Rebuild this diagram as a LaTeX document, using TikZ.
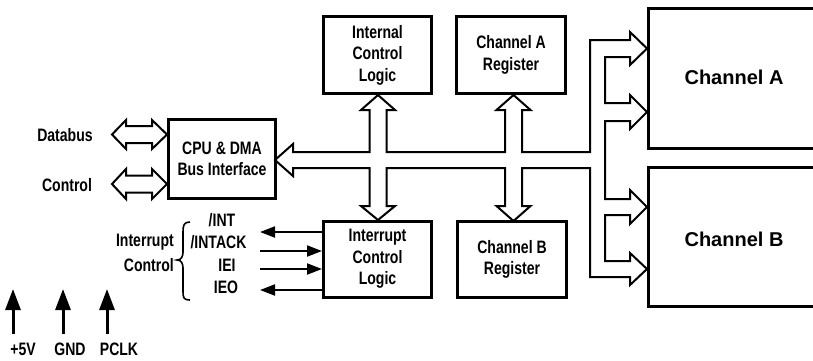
\documentclass[tikz,border=0pt]{standalone}
\usepackage{fontspec}
\setmainfont{Liberation Sans}
\newfontfamily\cond{Liberation Sans}[FakeStretch=0.78]
\usetikzlibrary{arrows.meta}
\tikzset{
  box/.style={draw, line width=3pt, inner sep=0pt, align=center,
    font=\cond\bfseries\fontsize{18}{21.5}\selectfont},
  bigbox/.style={draw, line width=3pt, inner sep=0pt},
  bigtext/.style={font=\bfseries\fontsize{20}{24}\selectfont, inner sep=0pt},
  lab/.style={font=\cond\bfseries\fontsize{18}{20}\selectfont, inner sep=0pt},
  bus/.style={draw, line width=2pt, line join=miter, fill=white},
  sig/.style={line width=2pt, -{Triangle[length=15pt,width=11pt]}},
  pwr/.style={line width=3pt, -{Triangle[length=21pt,width=15pt]}},
  bracestyle/.style={line width=1.6pt}
}
\begin{document}
\begin{tikzpicture}[x=1pt,y=-1pt]
\useasboundingbox (0,0) rectangle (813,360);
% buses
\path[bus] (275,160) -- (293,144) -- (293,152) -- (369.5,152) -- (369.5,110) -- (361,110) -- (378,95) -- (395,110) -- (386.5,110) -- (386.5,152) -- (505,152) -- (505,110) -- (496.5,110) -- (513.5,95) -- (530.5,110) -- (522,110) -- (522,152) -- (590,152) -- (590,40) -- (630,40) -- (630,32) -- (647,48.5) -- (630,65) -- (630,57) -- (605,57) -- (605,103) -- (630,103) -- (630,95) -- (647,112) -- (630,129) -- (630,121) -- (605,121) -- (605,199) -- (630,199) -- (630,190) -- (647,207) -- (630,224) -- (630,215) -- (605,215) -- (605,261) -- (630,261) -- (630,253) -- (647,269) -- (630,285) -- (630,277) -- (590,277) -- (590,168) -- (522,168) -- (522,206) -- (530.5,206) -- (513.5,221) -- (496.5,206) -- (505,206) -- (505,168) -- (386.5,168) -- (386.5,206) -- (395,206) -- (378,220) -- (361,206) -- (369.5,206) -- (369.5,168) -- (293,168) -- (293,176) -- cycle;
\path[bus] (112,134.5) -- (126,120) -- (126,126) -- (152,126) -- (152,120) -- (167,134.5) -- (152,149) -- (152,143) -- (126,143) -- (126,149) -- cycle;
\path[bus] (112,184) -- (126,169) -- (126,175.5) -- (152,175.5) -- (152,169) -- (167,184) -- (152,199) -- (152,192.5) -- (126,192.5) -- (126,199) -- cycle;
% boxes
\node[box, minimum width=107pt, minimum height=79pt] (cpu) at (222,159) {CPU \& DMA\\Bus Interface};
\node[box, minimum width=108pt, minimum height=77pt] (icl) at (377.5,55) {Internal\\Control\\Logic};
\node[box, minimum width=109pt, minimum height=77pt] (car) at (511,55) {Channel A\\Register};
\node[box, minimum width=108pt, minimum height=76pt] (intc) at (377.5,259) {Interrupt\\Control\\Logic};
\node[box, minimum width=109pt, minimum height=76pt] (cbr) at (512,259.5) {Channel B\\Register};
\node[bigbox, minimum width=200pt, minimum height=140pt] (cha) at (748.5,78.5) {};
\node[bigbox, minimum width=200pt, minimum height=139pt] (chb) at (748.5,237) {};
\node[bigtext] (chat) at (734,77) {Channel A};
\node[bigtext] (chbt) at (734,239) {Channel B};
% left labels
\node[lab] (db) at (65,135) {Databus};
\node[lab] (ct) at (67,185) {Control};
\node[lab, anchor=east] (ir1) at (174,242) {Interrupt};
\node[lab, anchor=east] (ir2) at (174,265) {Control};
\node[lab] (tint) at (222,220) {/INT};
\node[lab] (tack) at (218.5,242) {/INTACK};
\node[lab] (tiei) at (227,265) {IEI};
\node[lab] (tieo) at (226,287) {IEO};
\draw[bracestyle] (190,222) .. controls (184,222) and (183,225) .. (183,232) -- (183,252) .. controls (183,257) and (181,260) .. (177,260) .. controls (181,260) and (183,263) .. (183,268) -- (183,292) .. controls (183,298) and (184,300) .. (190,300);
% interrupt signals
\coordinate (s1) at (260,232);
\coordinate (s2) at (260,251);
\coordinate (s3) at (260,269);
\coordinate (s4) at (260,290);
\draw[sig] (s1 -| intc.west) -- (s1);
\draw[sig] (s2) -- (s2 -| intc.west);
\draw[sig] (s3) -- (s3 -| intc.west);
\draw[sig] (s4 -| intc.west) -- (s4);
% power
\coordinate (p1) at (13,334);
\coordinate (p2) at (63,334);
\coordinate (p3) at (107,334);
\coordinate (q1) at (13,289);
\coordinate (q2) at (63,289);
\coordinate (q3) at (107,289);
\draw[pwr] (p1) -- (q1);
\draw[pwr] (p2) -- (q2);
\draw[pwr] (p3) -- (q3);
\node[lab] (v5) at (23,349) {+5V};
\node[lab] (gnd) at (70,349) {GND};
\node[lab] (pclk) at (119,349) {PCLK};
\end{tikzpicture}
\end{document}
